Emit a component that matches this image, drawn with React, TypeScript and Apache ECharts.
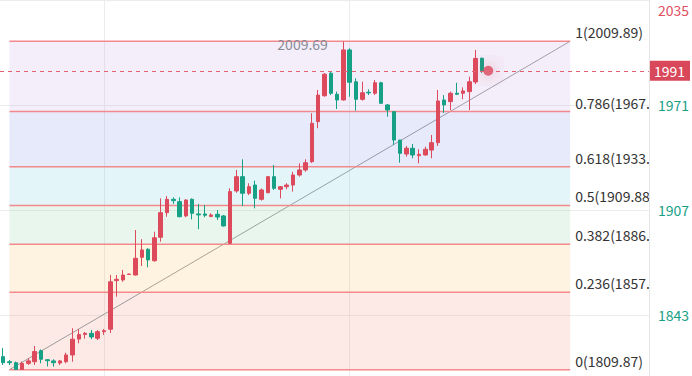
import React, { useEffect, useRef } from 'react';
import * as echarts from 'echarts';

// ---- data ----
const categoryCount = 103;
const categories = Array.from({ length: categoryCount }, (_, i) => String(i));

const opens = [
  1817.8, 1814.7, 1814.1, 1810.0, 1813.7, 1814.7, 1821.4, 1815.9, 1815.2, 1813.9,
  1814.7, 1818.8, 1828.5, 1831.3, 1832.0, 1829.0, 1833.0, 1834.5, 1864.1, 1864.5,
  1867.8, 1867.5, 1878.3, 1883.2, 1876.2, 1890.5, 1905.5, 1913.6, 1912.2, 1903.5,
  1913.6, 1904.7, 1904.7, 1903.2, 1904.5, 1903.5, 1886.8, 1918.7, 1927.4, 1917.3,
  1922.3, 1913.6, 1917.6, 1927.4, 1919.7, 1921.3, 1922.3, 1928.4, 1931.5, 1936.5,
  1960.9, 1976.7, 1990.4, 1977.6, 1974.1, 2004.6, 1985.2, 1974.5, 1978.8, 1978.2,
  1984.6, 1971.1, 1967.0, 1949.7, 1941.2, 1944.7, 1940.2, 1940.6, 1943.6, 1948.1,
  1974.1, 1973.1, 1978.2, 1978.2, 1979.2, 1985.1, 1999.5,
];
const closes = [
  1814.1, 1814.1, 1810.0, 1813.7, 1815.2, 1820.9, 1816.2, 1815.3, 1814.1, 1815.2,
  1818.8, 1828.4, 1831.2, 1832.0, 1829.8, 1833.0, 1833.6, 1863.4, 1864.9, 1867.5,
  1868.1, 1877.7, 1882.8, 1876.7, 1890.2, 1905.5, 1913.6, 1912.8, 1903.0, 1913.2,
  1905.1, 1904.1, 1903.9, 1904.1, 1902.8, 1897.4, 1918.3, 1927.4, 1917.3, 1921.3,
  1914.2, 1919.3, 1927.4, 1920.3, 1921.3, 1922.3, 1928.4, 1931.5, 1935.9, 1959.9,
  1977.1, 1989.8, 1978.2, 1974.1, 2004.6, 1984.9, 1974.5, 1978.5, 1978.4, 1984.6,
  1972.1, 1968.0, 1949.7, 1941.6, 1944.7, 1940.6, 1941.0, 1944.1, 1948.1, 1973.5,
  1971.1, 1978.2, 1977.6, 1979.6, 1985.2, 1999.4, 1991.9,
];
const lows = [
  1812.7, 1812.7, 1809.87, 1809.9, 1812.7, 1812.7, 1813.7, 1811.8, 1811.7, 1812.7,
  1813.7, 1814.7, 1825.9, 1828.8, 1828.4, 1827.9, 1831.0, 1832.2, 1854.3, 1863.4,
  1867.6, 1867.3, 1873.0, 1872.2, 1875.6, 1887.8, 1903.0, 1910.8, 1902.7, 1902.7,
  1901.4, 1895.4, 1902.7, 1902.7, 1901.0, 1897.0, 1886.4, 1917.6, 1909.5, 1916.2,
  1908.1, 1912.8, 1917.4, 1919.3, 1914.2, 1919.7, 1918.3, 1927.4, 1930.4, 1935.7,
  1956.9, 1976.1, 1977.1, 1968.6, 1973.8, 1976.1, 1967.6, 1973.7, 1977.1, 1977.1,
  1971.7, 1963.9, 1946.7, 1935.9, 1939.6, 1938.6, 1935.5, 1940.2, 1938.6, 1946.1,
  1966.2, 1968.0, 1977.1, 1974.5, 1968.0, 1983.8, 1990.6,
];
const highs = [
  1823.1, 1815.8, 1814.8, 1814.8, 1816.8, 1824.3, 1822.2, 1816.2, 1816.2, 1815.8,
  1820.2, 1835.1, 1834.5, 1832.8, 1834.0, 1834.0, 1834.6, 1867.5, 1867.5, 1870.6,
  1868.3, 1894.9, 1889.3, 1883.8, 1893.9, 1914.2, 1915.6, 1914.8, 1914.8, 1913.6,
  1914.2, 1910.8, 1910.2, 1905.1, 1907.1, 1904.1, 1920.3, 1931.5, 1938.0, 1923.4,
  1925.0, 1920.2, 1927.8, 1934.5, 1921.7, 1923.4, 1930.4, 1935.5, 1938.0, 1966.0,
  1980.2, 1990.5, 1991.3, 1979.2, 2009.69, 2005.6, 1987.3, 1985.2, 1980.6, 1986.3,
  1985.2, 1971.7, 1967.4, 1949.7, 1946.1, 1947.3, 1944.1, 1945.7, 1952.8, 1980.2,
  1977.1, 1979.2, 1984.6, 1981.8, 1988.3, 2004.6, 2000.0,
];

const currentPrice = 1991.9;
const yMin = 1806;
const yMax = 2035;
const yTickValues = [1843, 1907, 1971, 2035];
const splitLineIndices = [16, 55];

const fibRatios = [0, 0.236, 0.382, 0.5, 0.618, 0.786, 1];
const fibLow = 1809.87;
const fibHigh = 2009.89;
const fibStartIndex = 1;
const fibEndIndex = 90;

// ---- styles ----
const FONT = '"Noto Sans CJK SC", "Noto Sans", sans-serif';
const UP = '#dc4a5c';
const DOWN = '#16a085';
const AXIS_UP = '#e04f5f';
const AXIS_DOWN = '#17a085';
const FIB_LINE = '#f4898b';
const FIB_BANDS = [
  'rgba(245,145,125,0.2)',
  'rgba(250,195,100,0.2)',
  'rgba(140,210,170,0.2)',
  'rgba(115,205,225,0.2)',
  'rgba(130,150,235,0.2)',
  'rgba(195,170,230,0.2)',
];

export default function App() {
  const ref = useRef<HTMLDivElement>(null);

  useEffect(() => {
    if (!ref.current) return;
    const chart = echarts.init(ref.current, undefined, { renderer: 'svg' });
    const candleData = opens.map((o, i) => [o, closes[i], lows[i], highs[i]]);
    const fibData = fibRatios.map((r) => [fibStartIndex, fibEndIndex, fibLow + r * (fibHigh - fibLow), r]);

    chart.setOption({
      animation: false,
      textStyle: { fontFamily: FONT },
      grid: { left: 0, right: 42, top: 0, bottom: 0, containLabel: false },
      xAxis: {
        type: 'category',
        data: categories,
        boundaryGap: true,
        axisLine: { show: false },
        axisTick: { show: false },
        axisLabel: { show: false },
        splitLine: {
          show: true,
          alignWithLabel: true,
          interval: (index: number) => splitLineIndices.includes(index),
          lineStyle: { color: '#ececec', width: 1 },
        },
      },
      yAxis: {
        type: 'value',
        position: 'right',
        min: yMin,
        max: yMax,
        scale: true,
        axisLine: { show: true, lineStyle: { color: '#e6e6e6' } },
        axisTick: { show: false, customValues: yTickValues },
        splitLine: { show: true, lineStyle: { color: '#ececec' } },
        axisLabel: {
          customValues: yTickValues,
          margin: 9,
          formatter: (v: number) => {
            const key = v > currentPrice ? (v === yMax ? 'upTop' : 'up') : 'down';
            return `{${key}|${v}}`;
          },
          rich: {
            up: { color: AXIS_UP, fontSize: 14, fontFamily: FONT },
            upTop: { color: AXIS_UP, fontSize: 14, fontFamily: FONT, padding: [20, 0, 0, 0] },
            down: { color: AXIS_DOWN, fontSize: 14, fontFamily: FONT },
          },
        },
      },
      series: [
        {
          type: 'custom',
          z: 1,
          clip: true,
          silent: true,
          data: fibData,
          encode: { x: [0, 1], y: 2 },
          renderItem: (params: any, api: any) => {
            const i = params.dataIndex;
            const x1Idx = api.value(0);
            const x2Idx = api.value(1);
            const price = api.value(2);
            const ratio = api.value(3);
            const p1 = api.coord([x1Idx, price]);
            const p2 = api.coord([x2Idx, price]);
            const children: any[] = [];
            if (i < fibRatios.length - 1) {
              const nextPrice = fibLow + fibRatios[i + 1] * (fibHigh - fibLow);
              const q = api.coord([x1Idx, nextPrice]);
              children.push({
                type: 'rect',
                shape: { x: p1[0], y: q[1], width: p2[0] - p1[0], height: p1[1] - q[1] },
                style: { fill: FIB_BANDS[i] },
              });
            }
            children.push({
              type: 'line',
              shape: { x1: p1[0], y1: p1[1], x2: p2[0], y2: p2[1] },
              style: { stroke: FIB_LINE, lineWidth: 1.5 },
            });
            children.push({
              type: 'text',
              x: p2[0] + 5,
              y: p1[1] - 2,
              style: {
                text: `${ratio}(${price.toFixed(2)})`,
                fill: '#333',
                fontSize: 14,
                fontFamily: FONT,
                align: 'left',
                verticalAlign: 'bottom',
              },
            });
            if (i === 0) {
              const top = api.coord([x2Idx, fibHigh]);
              children.push({
                type: 'line',
                shape: { x1: p1[0], y1: p1[1], x2: top[0], y2: top[1] },
                style: { stroke: '#9b9b9b', lineWidth: 1 },
              });
            }
            return { type: 'group', children };
          },
        },
        {
          type: 'candlestick',
          z: 3,
          clip: false,
          barWidth: 4,
          data: candleData,
          itemStyle: {
            color: UP,
            color0: DOWN,
            borderColor: UP,
            borderColor0: DOWN,
            borderWidth: 1,
          },
          markPoint: {
            symbol: 'circle',
            symbolSize: 1,
            itemStyle: { color: 'rgba(0,0,0,0)' },
            data: [{ type: 'max', valueDim: 'highest' }],
            label: {
              show: true,
              position: 'left',
              distance: 15,
              offset: [0, 2],
              color: '#8a8a96',
              fontSize: 14,
              fontFamily: FONT,
              formatter: (p: any) => String(p.value),
            },
          },
          markLine: {
            silent: true,
            symbol: ['none', 'none'],
            data: [
              {
                yAxis: currentPrice,
                lineStyle: { color: '#e4606e', type: [4, 4], width: 1, opacity: 1 },
              },
            ],
            lineStyle: { color: '#e4606e', type: [4, 4], width: 1, opacity: 1 },
            label: {
              show: true,
              position: 'end',
              distance: 1,
              formatter: () => String(Math.floor(currentPrice)),
              color: '#fff',
              backgroundColor: '#d9475a',
              padding: [3, 5, 3, 4],
              fontSize: 14,
              fontFamily: FONT,
            },
          },
        },
        {
          type: 'scatter',
          z: 4,
          silent: true,
          symbolSize: 10,
          data: [[closes.length, currentPrice]],
          itemStyle: {
            color: UP,
            shadowBlur: 16,
            shadowColor: 'rgba(220,74,92,0.8)',
          },
        },
      ],
    });
    return () => chart.dispose();
  }, []);

  return (
    <div
      ref={ref}
      style={{ position: 'fixed', left: 0, top: 0, width: 692, height: 376, background: '#fff' }}
    />
  );
}
